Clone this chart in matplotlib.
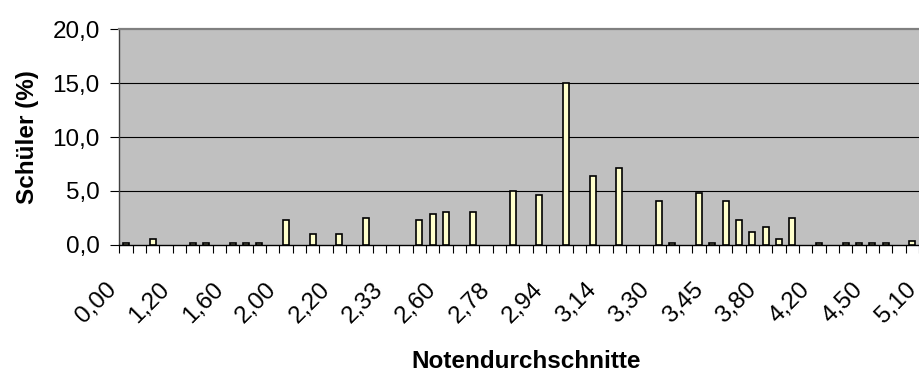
import numpy as np
import matplotlib
matplotlib.use("Agg")
import matplotlib.pyplot as plt
from matplotlib.transforms import ScaledTranslation

plt.rcParams['font.family'] = ['Liberation Sans', 'DejaVu Sans']

# Share of pupils (%) per grade-average category; None = no pupils in that class
values = [
    0.2, None, 0.6, None, None, 0.2, 0.2, None, 0.2, 0.2,
    0.2, None, 2.3, None, 1.0, None, 1.0, None, 2.5, None,
    None, None, 2.3, 2.9, 3.1, None, 3.1, None, None, 5.0,
    None, 4.6, None, 15.0, None, 6.4, None, 7.1, None, None,
    4.1, 0.2, None, 4.8, 0.2, 4.1, 2.3, 1.2, 1.7, 0.6,
    2.5, None, 0.2, None, 0.2, 0.2, 0.2, 0.2, None, 0.4,
    None,
]
# Labelled categories (every fourth class)
tick_labels = ["0,00", "1,20", "1,60", "2,00", "2,20", "2,33", "2,60", "2,78",
               "2,94", "3,14", "3,30", "3,45", "3,80", "4,20", "4,50", "5,10"]
label_step = 4

y_ticks = [0, 5, 10, 15, 20]
y_tick_labels = ["0,0", "5,0", "10,0", "15,0", "20,0"]

FS = 17.5
W, H, DPI = 920, 374, 100
fig = plt.figure(figsize=(W / DPI, H / DPI), dpi=DPI)

n = len(values)
cat_w = 13.33  # px per category
left, bottom, top = 119.3, 129, 345
ax = fig.add_axes([left / W, bottom / H, n * cat_w / W, (top - bottom) / H])
ax.set_facecolor("#C0C0C0")

x = np.arange(n)
heights = np.array([np.nan if v is None else v for v in values], dtype=float)
ax.bar(x, heights, width=0.45, color="#FFFFCC", edgecolor="black",
       linewidth=1.2, zorder=3)

ax.set_xlim(-0.5, n - 0.5)
ax.set_ylim(0, 20)

# horizontal gridlines
for yv in y_ticks[1:-1]:
    ax.axhline(yv, color="black", linewidth=0.8, zorder=1)

ax.spines["right"].set_visible(False)
ax.spines["top"].set_color("#808080")
ax.spines["top"].set_linewidth(1.6)
ax.spines["left"].set_color("#404040")
ax.spines["left"].set_linewidth(1.0)
ax.spines["bottom"].set_color("black")
ax.spines["bottom"].set_linewidth(1.0)

# y axis
ax.set_yticks(y_ticks)
ax.set_yticklabels(y_tick_labels, fontsize=FS)
ax.tick_params(axis="y", direction="out", length=6.5, width=0.8, pad=7.5,
               color="black")

# x axis: tick marks between categories, labels on every fourth category
ax.set_xticks(np.arange(n + 1) - 0.5)
ax.set_xticklabels([])
ax.tick_params(axis="x", which="major", direction="out", length=6,
               width=0.8, color="black")
label_pos = np.arange(0, n, label_step)
ax.set_xticks(label_pos, minor=True)
ax.set_xticklabels(tick_labels[:len(label_pos)], minor=True, rotation=45,
                   ha="right", va="top", fontsize=FS)
ax.tick_params(axis="x", which="minor", length=0, pad=24)
shift = ScaledTranslation(-5 / DPI, 0, fig.dpi_scale_trans)
for lab in ax.get_xticklabels(minor=True):
    lab.set_transform(lab.get_transform() + shift)

fig.text(28 / W, 1 - 137.5 / H, "Schüler (%)", rotation=90, ha="center",
         va="center", fontsize=FS, fontweight="bold")
fig.text(526 / W, 1 - 368 / H, "Notendurchschnitte", ha="center",
         va="baseline", fontsize=FS, fontweight="bold")

fig.savefig("out.png", dpi=DPI)
